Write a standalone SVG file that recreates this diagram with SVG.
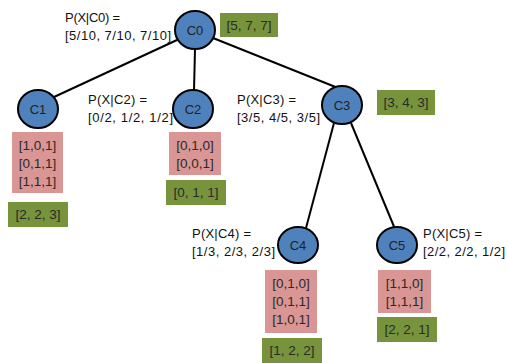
<svg xmlns="http://www.w3.org/2000/svg" width="508" height="363" viewBox="0 0 508 363">
<style>
.n{fill:#4F81BD;stroke:#000;stroke-width:2}
.nt{font-family:"Liberation Sans",Arial,sans-serif;font-size:13px;fill:#222;text-anchor:middle}
.lb{font-family:"Liberation Sans",Arial,sans-serif;font-size:13px;fill:#111}
.pk{fill:#DA9694}
.gr{fill:#77933C}
.bt{font-family:"Liberation Sans",Arial,sans-serif;font-size:13.5px;fill:#2a2a2a;text-anchor:middle}
.e{stroke:#000;stroke-width:2;fill:none}
</style>
<rect width="508" height="363" fill="#fff"/>
<g id="connectors">
<line class="e" x1="177" y1="40" x2="54" y2="97"/>
<line class="e" x1="195" y1="49" x2="194" y2="91"/>
<line class="e" x1="213" y1="38" x2="338" y2="88"/>
<line class="e" x1="334" y1="123" x2="306" y2="228"/>
<line class="e" x1="351" y1="123" x2="395" y2="229"/>
</g>
<g id="C0">
<ellipse class="n" cx="195" cy="30" rx="20" ry="19"/>
<text class="nt" x="195" y="35">C0</text>
<text class="lb" x="65" y="22" textLength="55">P(X|C0) =</text>
<text class="lb" x="65" y="40" textLength="106">[5/10, 7/10, 7/10]</text>
<rect class="gr" x="220" y="13" width="58" height="24"/>
<text class="bt" x="249" y="30">[5, 7, 7]</text>
</g>
<g id="C1">
<ellipse class="n" cx="38" cy="109" rx="20" ry="19"/>
<text class="nt" x="38" y="114">C1</text>
<rect class="pk" x="12" y="132" width="51" height="61"/>
<text class="bt" x="37.500" y="150">[1,0,1]</text>
<text class="bt" x="37.500" y="168">[0,1,1]</text>
<text class="bt" x="37.500" y="186">[1,1,1]</text>
<rect class="gr" x="8" y="202" width="60" height="25"/>
<text class="bt" x="38" y="219">[2, 2, 3]</text>
</g>
<g id="C2">
<ellipse class="n" cx="193" cy="109" rx="20" ry="19"/>
<text class="nt" x="193" y="114">C2</text>
<text class="lb" x="88" y="104" textLength="59">P(X|C2) =</text>
<text class="lb" x="88" y="122" textLength="85">[0/2, 1/2, 1/2]</text>
<rect class="pk" x="169" y="132" width="52" height="43"/>
<text class="bt" x="195" y="150">[0,1,0]</text>
<text class="bt" x="195" y="168">[0,0,1]</text>
<rect class="gr" x="166" y="180" width="60" height="25"/>
<text class="bt" x="196" y="197">[0, 1, 1]</text>
</g>
<g id="C3">
<ellipse class="n" cx="342" cy="105" rx="20" ry="19"/>
<text class="nt" x="342" y="110">C3</text>
<text class="lb" x="237" y="104" textLength="59">P(X|C3) =</text>
<text class="lb" x="237" y="122" textLength="83">[3/5, 4/5, 3/5]</text>
<rect class="gr" x="377" y="90" width="58" height="25"/>
<text class="bt" x="406" y="107">[3, 4, 3]</text>
</g>
<g id="C4">
<ellipse class="n" cx="298" cy="245" rx="20" ry="18"/>
<text class="nt" x="298" y="250">C4</text>
<text class="lb" x="192" y="238" textLength="59">P(X|C4) =</text>
<text class="lb" x="192" y="256" textLength="83">[1/3, 2/3, 2/3]</text>
<rect class="pk" x="265" y="270" width="52" height="63"/>
<text class="bt" x="291" y="288">[0,1,0]</text>
<text class="bt" x="291" y="306">[0,1,1]</text>
<text class="bt" x="291" y="324">[1,0,1]</text>
<rect class="gr" x="262" y="338" width="60" height="25"/>
<text class="bt" x="292" y="355">[1, 2, 2]</text>
</g>
<g id="C5">
<ellipse class="n" cx="397" cy="245" rx="20" ry="18"/>
<text class="nt" x="397" y="250">C5</text>
<text class="lb" x="423" y="238" textLength="59">P(X|C5) =</text>
<text class="lb" x="423" y="256" textLength="82">[2/2, 2/2, 1/2]</text>
<rect class="pk" x="378" y="270" width="53" height="43"/>
<text class="bt" x="404.500" y="288">[1,1,0]</text>
<text class="bt" x="404.500" y="306">[1,1,1]</text>
<rect class="gr" x="377" y="317" width="60" height="25"/>
<text class="bt" x="407" y="334">[2, 2, 1]</text>
</g>
</svg>
